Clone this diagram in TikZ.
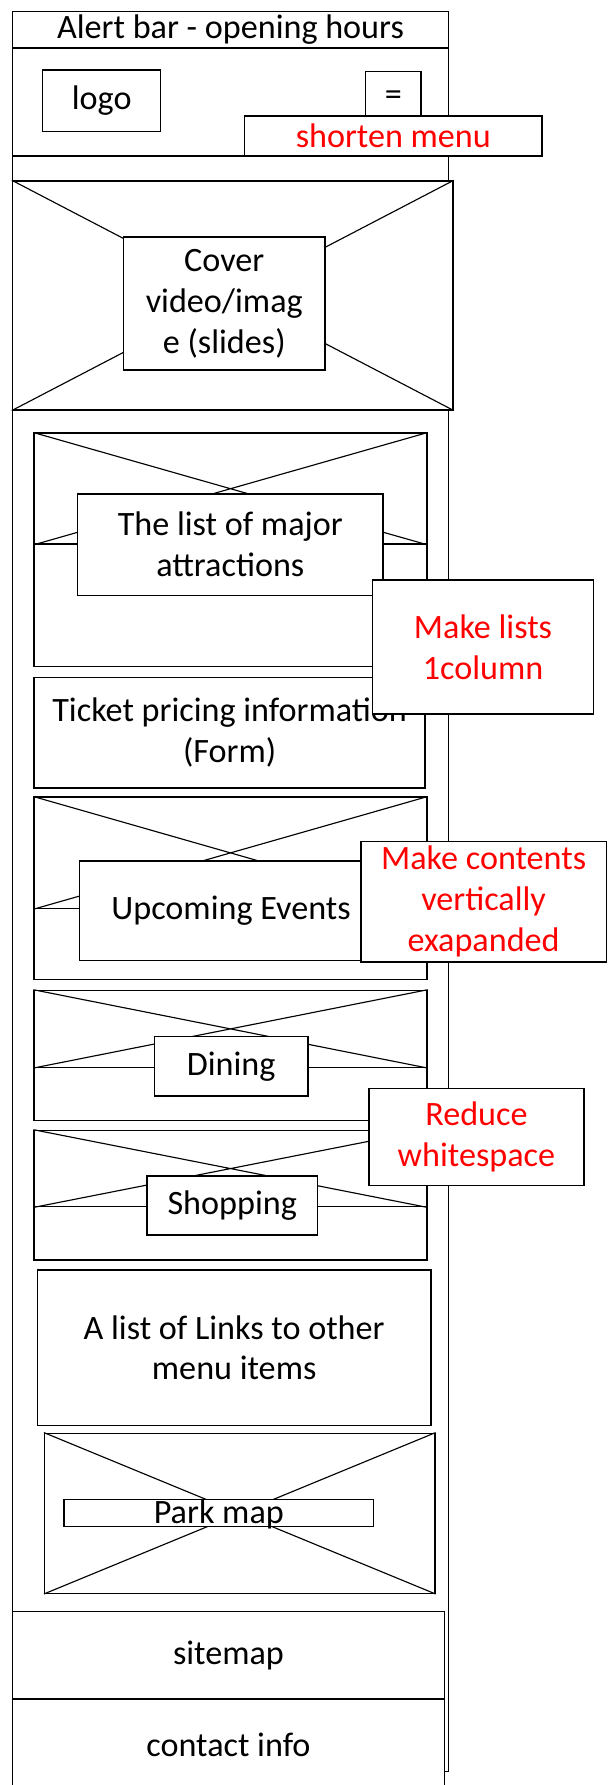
\documentclass[tikz,border=0pt]{standalone}
\usepackage{fontspec}
\setmainfont{Carlito}

\begin{document}
\begin{tikzpicture}
  [x=1pt,y=-1pt,line width=1.3pt,
   every node/.style={draw,fill=white,inner sep=0pt,align=center,
     font=\fontsize{30}{36}\selectfont},
   boxsize/.style 2 args={minimum width=#1pt,minimum height=#2pt},
   note/.style={text=red}]
  \path[use as bounding box,fill=white] (0,0) rectangle (534,1568);

  % page frame and header
  \node[boxsize={383}{1546}] (frame) at (202.5,783) {};
  \node[boxsize={383}{32}] (alert) at (202.5,26) {Alert bar - opening hours};
  \node[boxsize={383}{95}] (header) at (202.5,89.5) {};
  \node[boxsize={103.5}{54}] (logo) at (89.3,88.5) {logo};
  \node[boxsize={49}{47}] (menu) at (345.5,86.5) {=};
  \node[note,boxsize={261}{35}] (shorten) at (345.5,119.5) {shorten menu};

  % sections
  \node[boxsize={387}{201}] (cover) at (204.5,259.5) {};
  \node[boxsize={345}{205}] (attr) at (202.5,483) {};
  \node[boxsize={345}{97.4}] (attrimg) at (202.5,429.3) {};
  \node[boxsize={343.3}{97.4}] (ticket) at (201.7,643.7) {Ticket pricing information\\(Form)};
  \node[boxsize={345}{160}] (events) at (202.5,780.3) {};
  \node[boxsize={345}{97.7}] (eventsimg) at (202.5,749.2) {};
  \node[boxsize={345}{114.4}] (dining) at (202.5,927.2) {};
  \node[boxsize={345}{67.5}] (diningimg) at (202.5,903.8) {};
  \node[boxsize={345}{113.7}] (shopping) at (202.5,1049.9) {};
  \node[boxsize={345}{67}] (shoppingimg) at (202.5,1026.5) {};
  \node[boxsize={345.4}{136.7}] (links) at (205.7,1183.9) {A list of Links to other\\menu items};
  \node[boxsize={342.8}{140.5}] (parkimg) at (210.6,1329.3) {};
  \node[boxsize={379.4}{77}] (sitemap) at (200.7,1454.1) {sitemap};
  \node[boxsize={379.4}{80.4}] (contact) at (200.7,1532.8) {contact info};

  % crossed image placeholders
  \foreach \img in {cover,attrimg,eventsimg,diningimg,shoppingimg,parkimg}
    \draw[line width=1pt] (\img.north west) -- (\img.south east)
      (\img.north east) -- (\img.south west);

  % captions on the images
  \node[boxsize={177}{117}] (covertext) at (197,266.5) {Cover\\video/imag\\e (slides)};
  \node[boxsize={268.5}{89}] (attrtext) at (202.3,478.5) {The list of major\\attractions};
  \node[boxsize={266}{87.5}] (eventstext) at (203,800) {Upcoming Events};
  \node[boxsize={134.7}{52}] (diningtext) at (203,936.7) {Dining};
  \node[boxsize={150}{52}] (shoppingtext) at (204,1059) {Shopping};
  \node[boxsize={271.7}{24},text height=21pt,text depth=3pt] (parktext) at (192.2,1329) {Park map};

  % review notes
  \node[note,boxsize={194.5}{117.5}] (lists) at (424.3,568.3) {Make lists\\1column};
  \node[note,boxsize={215.5}{106}] (contents) at (424.8,792) {Make contents\\vertically\\exapanded};
  \node[note,boxsize={189}{85.5}] (whitespace) at (418.5,998.8) {Reduce\\whitespace};
\end{tikzpicture}
\end{document}
